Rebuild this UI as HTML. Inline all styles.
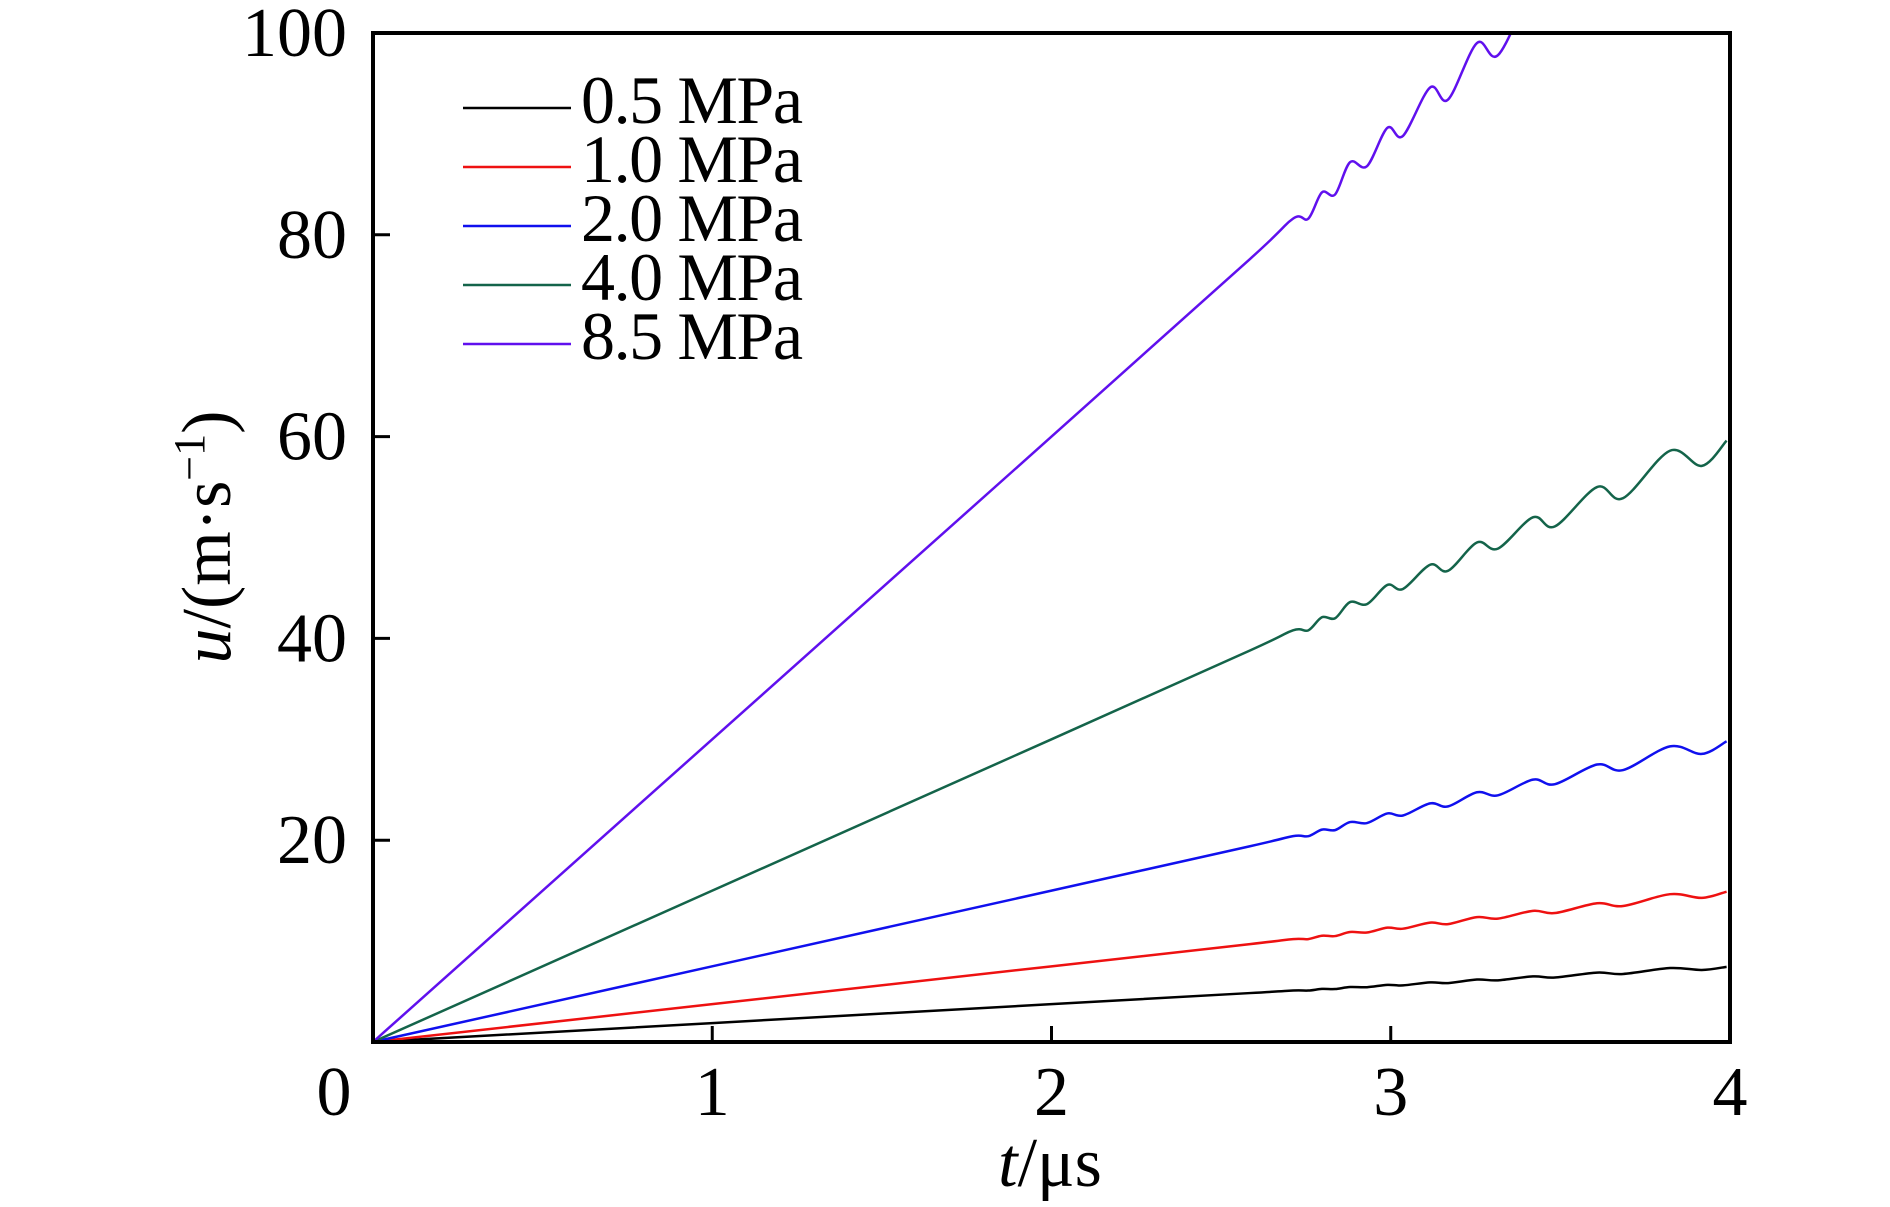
<!DOCTYPE html>
<html><head><meta charset="utf-8"><style>
body{margin:0;background:#fff}
svg text{font-family:"Liberation Serif",serif;fill:#000}
</style></head><body>
<svg id="chart" width="1890" height="1202" viewBox="0 0 1890 1202" xmlns="http://www.w3.org/2000/svg">
<defs><clipPath id="pc"><rect x="373" y="33" width="1357" height="1009"/></clipPath></defs>
<g id="series" clip-path="url(#pc)"></g>
<rect x="373" y="33" width="1357" height="1009" fill="none" stroke="#000" stroke-width="4"/>
<g id="ticks"></g>
<text x="1050" y="1186" font-size="70" text-anchor="middle"><tspan font-style="italic">t</tspan>/μs</text>
<text transform="translate(230,537) rotate(-90)" font-size="70" text-anchor="middle"><tspan font-style="italic">u</tspan>/(m·s<tspan dy="-26" font-size="44">−1</tspan><tspan dy="26">)</tspan></text>
<g id="legend"></g>
</svg>
<script>
const tVals=[0,1,2,2.585,2.712,2.757,2.797,2.836,2.88,2.93,2.99,3.036,3.116,3.169,3.254,3.316,3.419,3.484,3.608,3.685,3.823,3.917,3.99];
const u05=[0,1.875,3.75,4.85,5.1,5.1,5.26,5.25,5.45,5.43,5.66,5.61,5.91,5.84,6.19,6.11,6.5,6.39,6.88,6.74,7.33,7.14,7.45];
const u10=[0,3.75,7.5,9.7,10.2,10.2,10.53,10.5,10.9,10.85,11.33,11.23,11.83,11.68,12.38,12.23,13.0,12.78,13.75,13.48,14.65,14.28,14.9];
const u20=[0,7.5,15,19.4,20.4,20.4,21.05,21.0,21.8,21.7,22.65,22.45,23.65,23.35,24.75,24.45,26.0,25.55,27.5,26.95,29.3,28.55,29.8];
const u40=[0,15,30,38.8,40.8,40.8,42.1,42.0,43.6,43.4,45.3,44.9,47.3,46.7,49.5,48.9,52.0,51.1,55.0,53.9,58.6,57.1,59.6];
const u85=[0,30,60,77.6,81.6,81.6,84.2,84.0,87.2,86.8,90.6,89.8,94.6,93.4,99.0,97.8,104,102.2,110,107.8,117.2,114.2,119.2];
const seriesLabels=["0.5 MPa","1.0 MPa","2.0 MPa","4.0 MPa","8.5 MPa"];
const seriesColors=["#000000","#ee1111","#1010ee","#14644a","#6010ee"];
const xTicks=[0,1,2,3,4];
const yTicks=[20,40,60,80,100];
const X0=373,X1=1730,Y0=1042,Y1=33;
const xs=t=>X0+(X1-X0)*t/4, ys=u=>Y0-(Y0-Y1)*u/100;
const NS="http://www.w3.org/2000/svg";
const all=[u05,u10,u20,u40,u85];
const sg=document.getElementById('series');
all.forEach((arr,k)=>{
  const P=tVals.map((t,i)=>[xs(t),ys(arr[i])]);
  let d=`M${P[0][0]},${P[0][1]} L${P[1][0]},${P[1][1]} L${P[2][0]},${P[2][1]} L${P[3][0]},${P[3][1]}`;
  for(let i=3;i<P.length-1;i++){
    const p0=P[i-1],p1=P[i],p2=P[i+1],p3=P[Math.min(i+2,P.length-1)];
    const c1=[p1[0]+(p2[0]-p0[0])/6,p1[1]+(p2[1]-p0[1])/6];
    const c2=[p2[0]-(p3[0]-p1[0])/6,p2[1]-(p3[1]-p1[1])/6];
    d+=` C${c1[0]},${c1[1]} ${c2[0]},${c2[1]} ${p2[0]},${p2[1]}`;
  }
  const p=document.createElementNS(NS,'path');
  p.setAttribute('d',d);p.setAttribute('fill','none');
  p.setAttribute('stroke',seriesColors[k]);p.setAttribute('stroke-width','2.5');
  
  
  sg.appendChild(p);
});
const tg=document.getElementById('ticks');
xTicks.forEach(v=>{
  if(v>0&&v<4){const l=document.createElementNS(NS,'line');
  l.setAttribute('x1',xs(v));l.setAttribute('x2',xs(v));l.setAttribute('y1',Y0);l.setAttribute('y2',Y0-16);
  l.setAttribute('stroke','#000');l.setAttribute('stroke-width','3');
  
  
  tg.appendChild(l);}
  const t=document.createElementNS(NS,'text');
  t.setAttribute('x',v===0?334:xs(v));t.setAttribute('y',1115);t.setAttribute('font-size','70');t.setAttribute('text-anchor','middle');
  t.textContent=v;
  
  
  tg.appendChild(t);
});
yTicks.forEach(v=>{
  if(v<100){const l=document.createElementNS(NS,'line');
  l.setAttribute('x1',X0);l.setAttribute('x2',X0+17);l.setAttribute('y1',ys(v));l.setAttribute('y2',ys(v));
  l.setAttribute('stroke','#000');l.setAttribute('stroke-width','3');
  
  
  tg.appendChild(l);}
  const t=document.createElementNS(NS,'text');
  t.setAttribute('x',347);t.setAttribute('y',ys(v)+23);t.setAttribute('font-size','70');t.setAttribute('text-anchor','end');
  t.textContent=v;
  
  
  tg.appendChild(t);
});
const lg=document.getElementById('legend');
seriesLabels.forEach((s,i)=>{
  const y=108+i*59;
  const l=document.createElementNS(NS,'line');
  l.setAttribute('x1',463);l.setAttribute('x2',571);l.setAttribute('y1',y);l.setAttribute('y2',y);
  l.setAttribute('stroke',seriesColors[i]);l.setAttribute('stroke-width','2.5');
  
  
  lg.appendChild(l);
  const t=document.createElementNS(NS,'text');
  t.setAttribute('x',581);t.setAttribute('y',y+15);t.setAttribute('font-size','68');
  t.setAttribute('textLength','222');
  t.textContent=s;
  
  
  lg.appendChild(t);
});
</script>
</body></html>
